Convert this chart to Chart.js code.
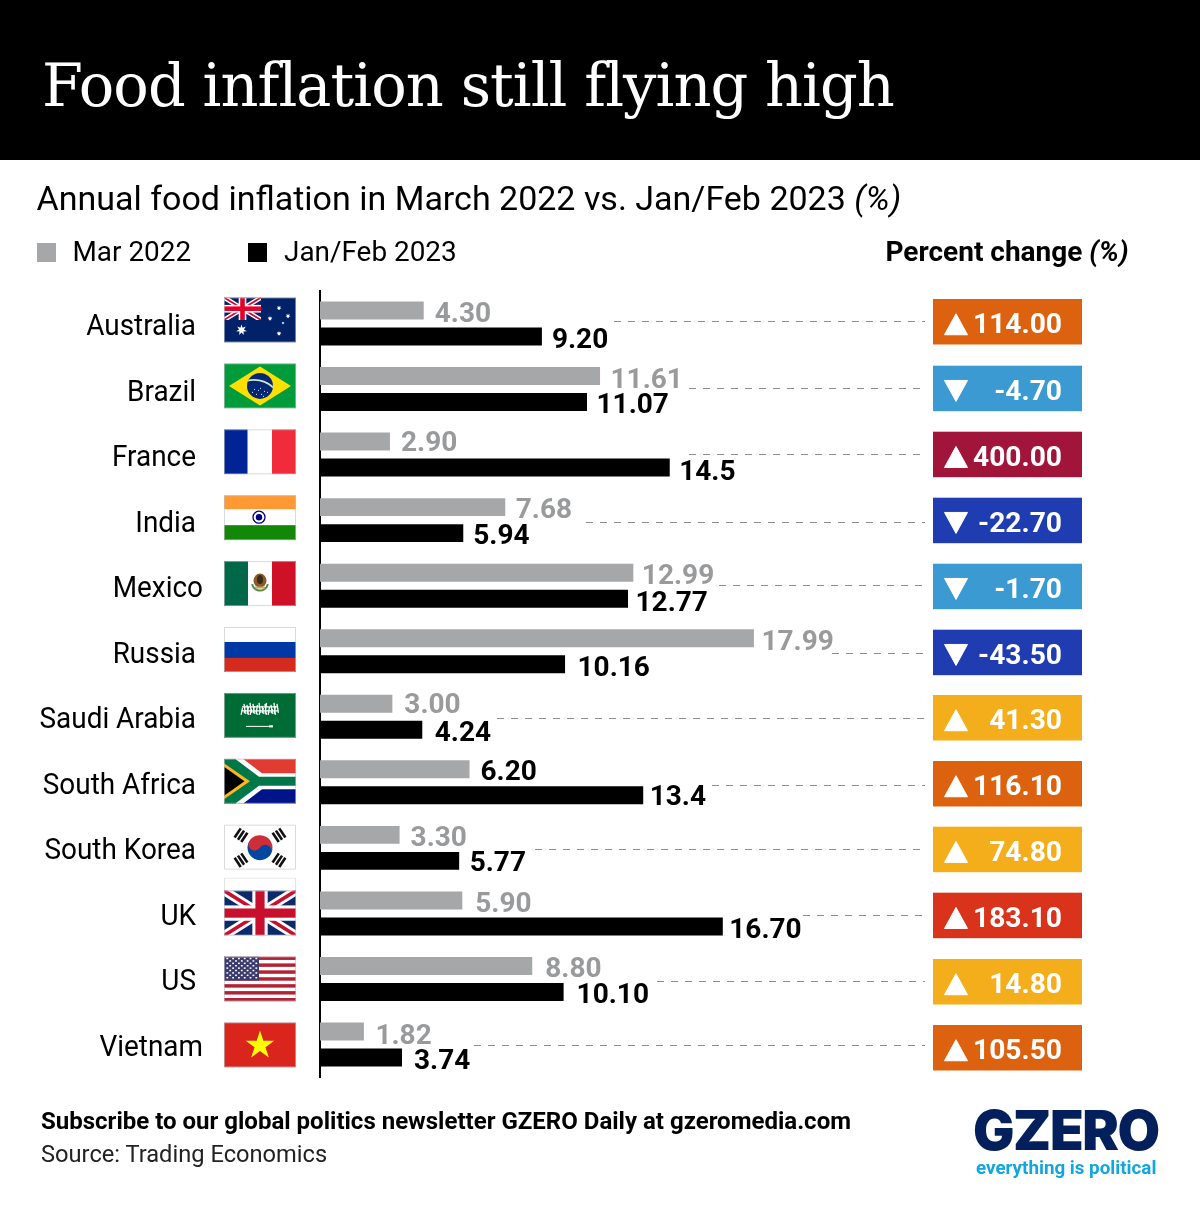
<!DOCTYPE html>
<html>
<head>
<meta charset="utf-8">
<script src="https://cdn.jsdelivr.net/npm/chart.js@4"></script>
<style>
  html, body { margin: 0; padding: 0; background: #fff; }
  #page { position: relative; width: 1200px; height: 1216px; overflow: hidden; font-family: Roboto, sans-serif; color: #000; }
  #page > * { position: absolute; white-space: nowrap; }
  #chart { left: 0; top: 0; }
  #header { left: 0; top: 0; width: 1200px; height: 160px; background: #000; }
  #title { left: 42px; top: 48px; color: #fff; font: 300 59px/76px "DejaVu Serif", serif; letter-spacing: -0.95px; }
  #subtitle { left: 36.5px; top: 177px; font-size: 34px; line-height: 42px; }
  .swatch { width: 19px; height: 19px; top: 243px; }
  .legendText { top: 234px; font-size: 27.9px; line-height: 36px; }
  #changeHead { left: 885.5px; top: 234px; font-size: 28px; line-height: 36px; font-weight: 700; }
  #subscribe { left: 41px; top: 1106px; font-size: 24.03px; line-height: 30px; font-weight: 700; }
  #source { left: 41px; top: 1139px; font-size: 23.67px; line-height: 30px; color: #222; }
  #logo { left: 973px; top: 1096px; font: 900 55px/68px Inter, sans-serif; color: #03205c; letter-spacing: -1.4px; }
  #tagline { left: 976px; top: 1156px; font-size: 18.8px; line-height: 24px; font-weight: 700; color: #10a6e0; }
</style>
</head>
<body>
<div id="page">
  <canvas id="chart" width="1200" height="1216"></canvas>
  <div id="header"></div>
  <div id="title">Food inflation still flying high</div>
  <div id="subtitle">Annual food inflation in March 2022 vs. Jan/Feb 2023 <i>(%)</i></div>
  <div class="swatch" style="left:37px;background:#a6a7a9"></div>
  <div class="legendText" style="left:72.5px">Mar 2022</div>
  <div class="swatch" style="left:248px;background:#000"></div>
  <div class="legendText" style="left:284px">Jan/Feb 2023</div>
  <div id="changeHead">Percent change <i>(%)</i></div>
  <div id="subscribe">Subscribe to our global politics newsletter GZERO Daily at gzeromedia.com</div>
  <div id="source">Source: Trading Economics</div>
  <div id="logo">GZERO</div>
  <div id="tagline">everything is political</div>
</div>
<script>
const countries = ['Australia', 'Brazil', 'France', 'India', 'Mexico', 'Russia', 'Saudi Arabia', 'South Africa', 'South Korea', 'UK', 'US', 'Vietnam'];
const mar2022 = [4.30, 11.61, 2.90, 7.68, 12.99, 17.99, 3.00, 6.20, 3.30, 5.90, 8.80, 1.82];
// Vietnam's bar is drawn shorter than its 3.74 label in the original, so it is read as 3.40
const janFeb2023 = [9.20, 11.07, 14.5, 5.94, 12.77, 10.16, 4.24, 13.4, 5.77, 16.70, 10.10, 3.40];
const marLabels = ['4.30', '11.61', '2.90', '7.68', '12.99', '17.99', '3.00', '6.20', '3.30', '5.90', '8.80', '1.82'];
const janFebLabels = ['9.20', '11.07', '14.5', '5.94', '12.77', '10.16', '4.24', '13.4', '5.77', '16.70', '10.10', '3.74'];
const percentChange = [114.00, -4.70, 400.00, -22.70, -1.70, -43.50, 41.30, 116.10, 74.80, 183.10, 14.80, 105.50];
const changeLabels = ['114.00', '-4.70', '400.00', '-22.70', '-1.70', '-43.50', '41.30', '116.10', '74.80', '183.10', '14.80', '105.50'];

// colours of the change boxes
const changeColors = ['#dd6210', '#3a9ad1', '#a1153a', '#1f3db0', '#3a9ad1', '#1f3db0', '#f5ae1b', '#dd6210', '#f5ae1b', '#d9331b', '#f5ae1b', '#dd6210'];
// hand placement of the value labels, the original nudges them around
const marLabelDx = [11, 10.5, 11, 10.5, 8.5, 7.5, 12, 11, 11, 13, 13, 11.5];
const marLabelDy = [5, 5, 2, 4, 4, 5, 2, 4, 4, 5, 4, 5];
const janLabelDx = [10, 9.5, 9.5, 10, 7.5, 12.5, 12.5, 6.5, 10.5, 6.5, 13, 12];
const janLabelDy = [5, 4, 5, 4, 5, 5, 4, 3, 3, 5, 4, 4];
const marLabelColors = ['#999a9c', '#999a9c', '#999a9c', '#999a9c', '#999a9c', '#999a9c', '#999a9c', '#000', '#999a9c', '#999a9c', '#999a9c', '#999a9c'];
// dashed leaders: start x and y relative to the row centre
const leaderX = [614, 689, 689, 586, 719, 832, 497, 712, 535, 803, 657, 474];
const leaderDy = [-1.5, 0, 0.5, 3, 0.4, 3, 2, 3.5, 2, 2.5, 3, 1.5];
const nameShift = [0, 0, 0, 0, 7, 0, 0, 0, 0, 0, 0, 7];
const boxTops = [299, 365.7, 431.7, 497.7, 563.7, 629.7, 695, 761, 826.7, 892.7, 959, 1025];

function star(ctx, cx, cy, r, points, inner, color) {
    ctx.fillStyle = color;
    ctx.beginPath();
    for (let i = 0; i < points * 2; i++) {
        const rad = i % 2 ? r * inner : r;
        const a = -Math.PI / 2 + i * Math.PI / points;
        ctx.lineTo(cx + rad * Math.cos(a), cy + rad * Math.sin(a));
    }
    ctx.closePath();
    ctx.fill();
}

function rect(ctx, x, y, w, h, color) {
    ctx.fillStyle = color;
    ctx.fillRect(x, y, w, h);
}

function poly(ctx, color, pts) {
    ctx.fillStyle = color;
    ctx.beginPath();
    pts.forEach(p => ctx.lineTo(p[0], p[1]));
    ctx.closePath();
    ctx.fill();
}

function union(ctx, x, y, w, h, navy, red) {
    ctx.save();
    ctx.beginPath();
    ctx.rect(x, y, w, h);
    ctx.clip();
    rect(ctx, x, y, w, h, navy);
    const k = h / 44;
    ctx.lineCap = 'butt';
    ctx.strokeStyle = '#fff';
    ctx.lineWidth = 9 * k;
    ctx.beginPath();
    ctx.moveTo(x, y); ctx.lineTo(x + w, y + h);
    ctx.moveTo(x + w, y); ctx.lineTo(x, y + h);
    ctx.stroke();
    ctx.strokeStyle = red;
    ctx.lineWidth = 3.5 * k;
    ctx.beginPath();
    ctx.moveTo(x, y); ctx.lineTo(x + w, y + h);
    ctx.moveTo(x + w, y); ctx.lineTo(x, y + h);
    ctx.stroke();
    rect(ctx, x + w / 2 - 7.5 * k, y, 15 * k, h, '#fff');
    rect(ctx, x, y + h / 2 - 7.5 * k, w, 15 * k, '#fff');
    rect(ctx, x + w / 2 - 4.5 * k, y, 9 * k, h, red);
    rect(ctx, x, y + h / 2 - 4.5 * k, w, 9 * k, red);
    ctx.restore();
}

const flagPainters = {
    Australia(ctx, x, y, w, h) {
        rect(ctx, x, y, w, h, '#012169');
        union(ctx, x, y, 37, 22.5, '#012169', '#e4002b');
        star(ctx, x + 17.5, y + 32.5, 5.5, 7, 0.45, '#fff');
        star(ctx, x + 55, y + 10.5, 2.6, 7, 0.45, '#fff');
        star(ctx, x + 46, y + 21, 2.6, 7, 0.45, '#fff');
        star(ctx, x + 64, y + 18.5, 2.6, 7, 0.45, '#fff');
        star(ctx, x + 59, y + 25.5, 1.6, 5, 0.45, '#fff');
        star(ctx, x + 55, y + 36, 2.6, 7, 0.45, '#fff');
    },
    Brazil(ctx, x, y, w, h) {
        rect(ctx, x, y, w, h, '#009b3a');
        poly(ctx, '#fedf00', [[x + 5, y + h / 2], [x + w / 2, y + 3], [x + w - 5, y + h / 2], [x + w / 2, y + h - 3]]);
        ctx.fillStyle = '#002776';
        ctx.beginPath();
        ctx.arc(x + w / 2, y + h / 2, 13, 0, Math.PI * 2);
        ctx.fill();
        ctx.save();
        ctx.beginPath();
        ctx.arc(x + w / 2, y + h / 2, 13, 0, Math.PI * 2);
        ctx.clip();
        ctx.strokeStyle = '#cfe8c8';
        ctx.lineWidth = 1.8;
        ctx.beginPath();
        ctx.arc(x + w / 2 - 6, y + h / 2 + 22, 28, -Math.PI * 0.75, -Math.PI * 0.12);
        ctx.stroke();
        ctx.restore();
        [[-6, 3], [-2, 4], [1, 8], [4, 5], [7, 6], [-4, 8], [3, 10], [-8, 6], [0, 2]].forEach(p => rect(ctx, x + w / 2 + p[0], y + h / 2 + p[1], 1, 1, '#dfe6f0'));
    },
    France(ctx, x, y, w, h) {
        rect(ctx, x, y, w, h, '#fff');
        rect(ctx, x, y, 23.5, h, '#002395');
        rect(ctx, x + 48, y, w - 48, h, '#ef2b3c');
    },
    India(ctx, x, y, w, h) {
        rect(ctx, x, y, w, h, '#fff');
        rect(ctx, x, y, w, 14, '#ff9933');
        rect(ctx, x, y + 30, w, h - 30, '#138808');
        ctx.strokeStyle = '#000080';
        ctx.lineWidth = 1.3;
        ctx.beginPath();
        ctx.arc(x + w / 2 - 1, y + 22, 6, 0, Math.PI * 2);
        ctx.stroke();
        ctx.fillStyle = '#000080';
        ctx.beginPath();
        ctx.arc(x + w / 2 - 1, y + 22, 3.2, 0, Math.PI * 2);
        ctx.fill();
    },
    Mexico(ctx, x, y, w, h) {
        rect(ctx, x, y, w, h, '#fff');
        rect(ctx, x, y, 24, h, '#006847');
        rect(ctx, x + 48, y, w - 48, h, '#ce1126');
        const cx = x + w / 2, cy = y + 20.5;
        ctx.strokeStyle = '#4f8a4a';
        ctx.lineWidth = 2;
        ctx.beginPath();
        ctx.arc(cx, cy + 1, 8, 0.2, Math.PI - 0.2);
        ctx.stroke();
        ctx.fillStyle = '#8a5a2b';
        ctx.beginPath();
        ctx.ellipse(cx, cy - 1, 6.5, 7, 0, 0, Math.PI * 2);
        ctx.fill();
        ctx.fillStyle = '#3d2a18';
        ctx.beginPath();
        ctx.ellipse(cx, cy - 2, 3, 4.5, 0, 0, Math.PI * 2);
        ctx.fill();
        rect(ctx, cx - 5, cy + 5, 10, 2, '#c9a94f');
    },
    Russia(ctx, x, y, w, h) {
        rect(ctx, x, y, w, h, '#fff');
        rect(ctx, x, y + 15, w, 16, '#0039a6');
        rect(ctx, x, y + 31, w, h - 31, '#d52b1e');
    },
    'Saudi Arabia'(ctx, x, y, w, h) {
        rect(ctx, x, y, w, h, '#006c35');
        ctx.strokeStyle = '#fff';
        ctx.lineWidth = 1.3;
        ctx.beginPath();
        // rough stand-in for the shahada script
        const strokes = [7, 11, 5, 10, 8, 12, 6, 11, 9, 4, 10, 12, 5, 9, 7, 11, 12, 4, 8, 10, 6, 12, 9, 11];
        strokes.forEach((s, i) => {
            const sx = x + 18.5 + i * 1.5;
            ctx.moveTo(sx, y + 22 - s);
            ctx.lineTo(sx + (i % 2 ? 1.4 : -1.4), y + 22 - (i % 3));
        });
        ctx.moveTo(x + 18, y + 18);
        ctx.lineTo(x + 54, y + 18);
        ctx.moveTo(x + 18, y + 14);
        ctx.lineTo(x + 54, y + 14);
        ctx.stroke();
        ctx.lineWidth = 1;
        ctx.beginPath();
        ctx.moveTo(x + 22, y + 33.5);
        ctx.lineTo(x + 49, y + 33.5);
        ctx.stroke();
        rect(ctx, x + 45, y + 32.5, 4, 2, '#fff');
    },
    'South Africa'(ctx, x, y, w, h) {
        const mid = y + h / 2;
        rect(ctx, x, y, w, h / 2, '#e03c31');
        rect(ctx, x, mid, w, h / 2, '#001489');
        poly(ctx, '#fff', [[x + 12, y], [x + 19, y], [x + 38, y + 14.5], [x + w, y + 14.5], [x + w, y + 30.5], [x + 38, y + 30.5], [x + 19, y + h], [x + 12, y + h]]);
        poly(ctx, '#007749', [[x, y], [x + 11, y], [x + 35, y + 18], [x + w, y + 18], [x + w, y + 27], [x + 35, y + 27], [x + 11, y + h], [x, y + h]]);
        poly(ctx, '#ffb81c', [[x, y + 4.5], [x + 26, mid], [x, y + h - 4.5]]);
        poly(ctx, '#000', [[x, y + 8], [x + 20.5, mid], [x, y + h - 8]]);
    },
    'South Korea'(ctx, x, y, w, h) {
        rect(ctx, x, y, w, h, '#fff');
        const cx = x + w / 2, cy = y + h / 2 + 0.5, r = 12.5, tilt = 0.55;
        ctx.fillStyle = '#cd2e3a';
        ctx.beginPath();
        ctx.arc(cx, cy, r, Math.PI + tilt, tilt);
        ctx.fill();
        ctx.fillStyle = '#0047a0';
        ctx.beginPath();
        ctx.arc(cx, cy, r, tilt, Math.PI + tilt);
        ctx.fill();
        const ox = r / 2 * Math.cos(tilt), oy = r / 2 * Math.sin(tilt);
        ctx.fillStyle = '#cd2e3a';
        ctx.beginPath();
        ctx.arc(cx - ox, cy - oy, r / 2, 0, Math.PI * 2);
        ctx.fill();
        ctx.fillStyle = '#0047a0';
        ctx.beginPath();
        ctx.arc(cx + ox, cy + oy, r / 2, 0, Math.PI * 2);
        ctx.fill();
        // trigrams in the four corners
        [[-19, -12.5, -0.98], [19, -12.5, 0.98], [-19, 12.5, 0.98], [19, 12.5, -0.98]].forEach(t => {
            ctx.save();
            ctx.translate(cx + t[0], cy + t[1]);
            ctx.rotate(t[2]);
            ctx.fillStyle = '#111';
            for (let i = -1; i <= 1; i++) ctx.fillRect(-5.5, i * 4 - 1.3, 11, 2.6);
            ctx.restore();
        });
    },
    UK(ctx, x, y, w, h) {
        rect(ctx, x, y - 13, w, 13, '#fff');
        ctx.strokeStyle = '#e4e4e4';
        ctx.lineWidth = 1;
        ctx.strokeRect(x + 0.5, y - 12.5, w - 1, 13);
        union(ctx, x, y, w, h, '#0a2a6b', '#c8102e');
    },
    US(ctx, x, y, w, h) {
        rect(ctx, x, y, w, h, '#fff');
        for (let i = 0; i < 13; i += 2) rect(ctx, x, y + i * h / 13, w, h / 13, '#b22234');
        rect(ctx, x, y, 35, 24, '#3c3b6e');
        for (let r = 0; r < 9; r++) {
            const n = r % 2 ? 5 : 6;
            for (let c = 0; c < n; c++) {
                rect(ctx, x + 2.4 + c * 5.8 + (r % 2 ? 2.9 : 0), y + 1.3 + r * 2.4, 1.8, 1.5, '#fff');
            }
        }
    },
    Vietnam(ctx, x, y, w, h) {
        rect(ctx, x, y, w, h, '#da251d');
        star(ctx, x + w / 2, y + h / 2 + 0.5, 15, 5, 0.382, '#ffff00');
    }
};

// everything around the bars that the library has no element for
const rowDecorations = {
    id: 'rowDecorations',
    afterDatasetsDraw(chart) {
        const ctx = chart.ctx;
        const yScale = chart.scales.y;
        const marBars = chart.getDatasetMeta(0).data;
        const janBars = chart.getDatasetMeta(1).data;

        countries.forEach((name, i) => {
            const cy = yScale.getPixelForValue(i);

            ctx.textBaseline = 'middle';
            ctx.fillStyle = '#000';
            ctx.font = '400 30px Roboto';
            ctx.textAlign = 'right';
            // names are set a bit condensed in the original
            ctx.save();
            ctx.translate(196 + nameShift[i], cy + 4);
            ctx.scale(0.93, 1);
            ctx.fillText(name, 0, 0);
            ctx.restore();

            // flags run on a slightly wider pitch than the bars
            const fx = 224, fy = cy - 26 + i * 0.35, fw = 72, fh = 45;
            ctx.save();
            ctx.beginPath();
            ctx.rect(fx, name === 'UK' ? fy - 13 : fy, fw, name === 'UK' ? fh + 13 : fh);
            ctx.clip();
            flagPainters[name](ctx, fx, fy, fw, fh);
            ctx.restore();
            ctx.strokeStyle = 'rgba(190,195,200,0.6)';
            ctx.lineWidth = 1;
            ctx.strokeRect(fx + 0.5, fy + 0.5, fw - 1, fh - 1);

            ctx.setLineDash([7, 7]);
            ctx.strokeStyle = '#8d8d8d';
            ctx.lineWidth = 1;
            ctx.beginPath();
            ctx.moveTo(leaderX[i], Math.round(cy + leaderDy[i]) - 0.5);
            ctx.lineTo(925, Math.round(cy + leaderDy[i]) - 0.5);
            ctx.stroke();
            ctx.setLineDash([]);

            ctx.textAlign = 'left';
            ctx.font = '700 28px Roboto';
            ctx.fillStyle = marLabelColors[i];
            ctx.fillText(marLabels[i], marBars[i].x + marLabelDx[i], marBars[i].y + marLabelDy[i]);
            ctx.fillStyle = '#000';
            ctx.fillText(janFebLabels[i], janBars[i].x + janLabelDx[i], janBars[i].y + janLabelDy[i]);

            const bx = 933, by = boxTops[i], bw = 149, bh = 45.5;
            rect(ctx, bx, by, bw, bh, changeColors[i]);
            const ax = bx + 23, my = by + bh / 2 + 2.5;
            ctx.strokeStyle = '#fff';
            ctx.lineWidth = 1;
            ctx.lineJoin = 'round';
            ctx.beginPath();
            if (percentChange[i] >= 0) {
                ctx.moveTo(ax - 11.5, my + 10.5); ctx.lineTo(ax, my - 10.5); ctx.lineTo(ax + 11.5, my + 10.5);
            } else {
                ctx.moveTo(ax - 11.5, my - 10.5); ctx.lineTo(ax + 11.5, my - 10.5); ctx.lineTo(ax, my + 10.5);
            }
            ctx.closePath();
            ctx.fillStyle = '#fff';
            ctx.fill();
            ctx.stroke();

            ctx.textAlign = 'right';
            ctx.font = '700 28.2px Roboto';
            ctx.fillText(changeLabels[i], bx + 129, by + bh / 2 + 4);
        });
    }
};

new Chart(document.getElementById('chart'), {
    type: 'bar',
    data: {
        labels: countries,
        datasets: [
            { label: 'Mar 2022', data: mar2022, backgroundColor: '#a6a7a9' },
            { label: 'Jan/Feb 2023', data: janFeb2023, backgroundColor: '#000' }
        ]
    },
    options: {
        indexAxis: 'y',
        responsive: false,
        devicePixelRatio: 1,
        animation: false,
        categoryPercentage: 0.793,
        barPercentage: 0.692,
        layout: { padding: { left: 320, right: 397.6, top: 290.7, bottom: 138.7 } },
        plugins: { legend: { display: false }, tooltip: { enabled: false } },
        scales: {
            x: { display: false, min: 0, max: 20 },
            y: {
                afterFit(scale) { scale.width = 0; },
                grid: { drawOnChartArea: false, drawTicks: false },
                border: { display: true, color: '#000', width: 2 },
                ticks: { display: false }
            }
        }
    },
    plugins: [rowDecorations]
});
</script>
</body>
</html>
